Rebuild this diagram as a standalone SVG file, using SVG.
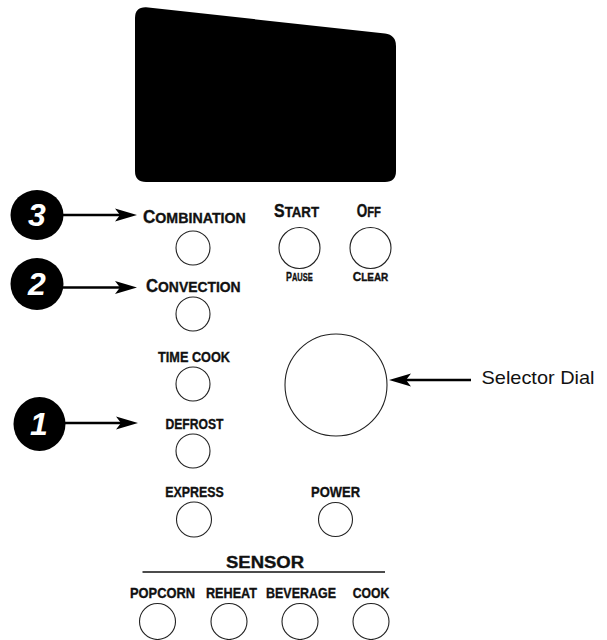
<svg xmlns="http://www.w3.org/2000/svg" width="607" height="640" viewBox="0 0 607 640">
<style>
.btn{fill:#fff;stroke:#222;stroke-width:1.1}
.lbl{font-family:"Liberation Sans",Arial,sans-serif;font-weight:bold;fill:#111;stroke:#111;stroke-width:0.35;text-anchor:middle}
.sc{font-family:"Liberation Sans",Arial,sans-serif;font-weight:bold;fill:#111;stroke:#111;stroke-width:0.35;text-anchor:start}
.num{font-family:"Liberation Sans",Arial,sans-serif;font-weight:bold;font-style:italic;fill:#fff;text-anchor:middle;font-size:32px}
.arr{stroke:#000;stroke-width:2.6;fill:none}
.bub{fill:#000}
.big{font-size:18px}.sm{font-size:15px}.big2{font-size:12.5px}.sm2{font-size:10.5px}
</style>
<defs>
<marker id="ah" markerUnits="userSpaceOnUse" viewBox="-10 -8 28 16" refX="0" refY="0" markerWidth="28" markerHeight="16" orient="auto">
<path d="M16,0 L-6,-6.5 L-1,0 L-6,6.5 Z" fill="#000"/>
</marker>
</defs>
<rect width="607" height="640" fill="#fff"/>
<g id="display"><path d="M135,18 Q135,7 146,7.3 L385,33.5 Q396,35 396,46 L396,171 Q396,182 385,182 L146,182 Q135,182 135,171 Z" fill="#000"/></g>

<g id="combination"><text class="sc" transform="translate(143,223) scale(0.948,1)"><tspan class="big">C</tspan><tspan class="sm">OMBINATION</tspan></text><circle class="btn" cx="193" cy="248" r="17"/></g>
<g id="start"><text class="sc" transform="translate(274,217) scale(0.885,1)"><tspan class="big">S</tspan><tspan class="sm">TART</tspan></text><circle class="btn" cx="299.5" cy="248" r="20.5"/><text class="sc" transform="translate(286,281) scale(0.712,1)"><tspan class="big2">P</tspan><tspan class="sm2">AUSE</tspan></text></g>
<g id="off"><text class="sc" transform="translate(356.7,217) scale(0.75,1)"><tspan class="big">O</tspan><tspan class="sm">FF</tspan></text><circle class="btn" cx="370.5" cy="248" r="20.5"/><text class="sc" transform="translate(352.7,281) scale(0.947,1)"><tspan class="big2">C</tspan><tspan class="sm2">LEAR</tspan></text></g>
<g id="convection"><text class="sc" transform="translate(146,292) scale(0.927,1)"><tspan class="big">C</tspan><tspan class="sm">ONVECTION</tspan></text><circle class="btn" cx="193" cy="314" r="17"/></g>
<g id="timecook"><text class="lbl" x="194" y="362" font-size="15" textLength="72" lengthAdjust="spacingAndGlyphs">TIME COOK</text><circle class="btn" cx="193" cy="384" r="17"/></g>
<g id="defrost"><text class="lbl" x="194.5" y="428.5" font-size="15" textLength="58" lengthAdjust="spacingAndGlyphs">DEFROST</text><circle class="btn" cx="193" cy="451" r="17"/></g>
<g id="express"><text class="lbl" x="194.5" y="496.5" font-size="15" textLength="58.5" lengthAdjust="spacingAndGlyphs">EXPRESS</text><circle class="btn" cx="194" cy="519.5" r="17.5"/></g>
<g id="power"><text class="lbl" x="335.5" y="496.5" font-size="15" textLength="49" lengthAdjust="spacingAndGlyphs">POWER</text><circle class="btn" cx="335.5" cy="519.5" r="17"/></g>
<g id="dial"><circle class="btn" cx="336" cy="385" r="51"/></g>
<g id="sensor"><text class="lbl" x="265" y="568" font-size="16" textLength="78" lengthAdjust="spacingAndGlyphs">SENSOR</text><line x1="142.5" y1="572" x2="385" y2="572" stroke="#111" stroke-width="1.4"/></g>
<g id="popcorn"><text class="lbl" x="162.5" y="597.5" font-size="15" textLength="65" lengthAdjust="spacingAndGlyphs">POPCORN</text><circle class="btn" cx="157.5" cy="621.5" r="18"/></g>
<g id="reheat"><text class="lbl" x="231.5" y="597.5" font-size="15" textLength="51" lengthAdjust="spacingAndGlyphs">REHEAT</text><circle class="btn" cx="229" cy="621.5" r="18"/></g>
<g id="beverage"><text class="lbl" x="301" y="597.5" font-size="15" textLength="70" lengthAdjust="spacingAndGlyphs">BEVERAGE</text><circle class="btn" cx="300" cy="621.5" r="18"/></g>
<g id="cook"><text class="lbl" x="371" y="597.5" font-size="15" textLength="36.5" lengthAdjust="spacingAndGlyphs">COOK</text><circle class="btn" cx="371" cy="621.5" r="18"/></g>

<g id="bubble3"><ellipse class="bub" cx="37" cy="215" rx="26.5" ry="25"/><text class="num" x="37" y="226">3</text></g>
<g id="bubble2"><ellipse class="bub" cx="37" cy="284" rx="26.5" ry="26"/><text class="num" x="37" y="295">2</text></g>
<g id="bubble1"><ellipse class="bub" cx="39.5" cy="424" rx="26" ry="27"/><text class="num" x="39" y="435">1</text></g>
<g id="selector-label"><text x="538" y="383.5" font-family="'Liberation Sans',Arial,sans-serif" font-size="19" fill="#111" text-anchor="middle" textLength="113" lengthAdjust="spacingAndGlyphs">Selector Dial</text></g>

<g id="connectors">
<line class="arr" x1="62" y1="215" x2="121" y2="215" marker-end="url(#ah)"/>
<line class="arr" x1="62" y1="287.5" x2="121" y2="287.5" marker-end="url(#ah)"/>
<line class="arr" x1="64" y1="423" x2="122" y2="423" stroke-width="3" marker-end="url(#ah)"/>
<line class="arr" x1="471" y1="380" x2="405" y2="380" stroke-width="2.2" marker-end="url(#ah)"/>
</g>
</svg>
